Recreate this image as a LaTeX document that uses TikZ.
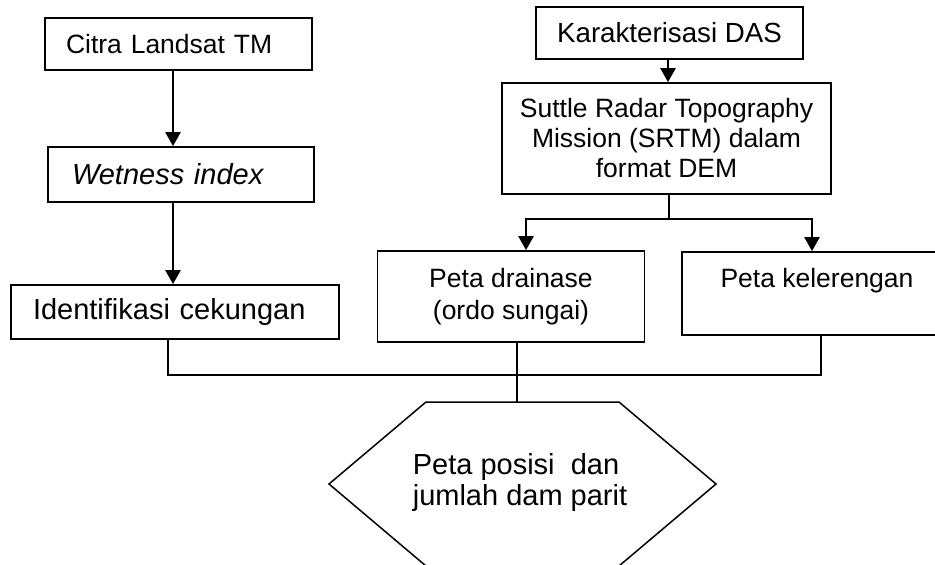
\documentclass[tikz,border=0pt]{standalone}
\usepackage{fontspec}
\setmainfont{Liberation Sans}
\usetikzlibrary{arrows.meta,calc}
\newcommand{\fsA}{\fontsize{26.5}{30}\selectfont}
\newcommand{\fsB}{\fontsize{29}{31}\selectfont}
\newcommand{\fsC}{\fontsize{26.5}{32}\selectfont}
\newcommand{\fsD}{\fontsize{27.7}{30}\selectfont}
\begin{document}
\begin{tikzpicture}[x=1pt,y=-1pt,
  box/.style={draw, line width=1.7pt, inner ysep=0pt, font=\fsA},
  lbox/.style={box, align=left},
  arr/.style={line width=2.3pt, -{Triangle[width=15pt,length=14pt]}},
  conn/.style={line width=1.5pt},
]
\useasboundingbox (0,0) rectangle (935,565);
\clip (0,0) rectangle (935,565);

\node[lbox, text width=225pt, inner xsep=21pt, minimum height=52pt] (citra) at (178.5,44) {Citra Landsat TM};
\node[lbox, text width=218pt, inner xsep=24pt, minimum height=55pt, font=\fsB\itshape] (wet) at (181,174.5) {Wetness index};
\node[lbox, text width=284pt, inner xsep=22pt, minimum height=54pt, font=\fsB] (ident) at (175,312) {Identifikasi cekungan};
\node[box, minimum width=267pt, minimum height=52pt, font=\fsD] (karak) at (669.5,33) {Karakterisasi DAS};
\node[box, align=center, minimum width=329pt, minimum height=111pt] (srtm) at (666.5,138.5) {Suttle Radar Topography\\Mission (SRTM) dalam\\format DEM};
\node[box, align=center, minimum width=267pt, minimum height=91pt, font=\fsC] (drain) at (511,296.5) {Peta drainase\\(ordo sungai)};
\node[box, minimum width=270pt, minimum height=83pt, text height=20pt, text depth=32pt] (keler) at (817,293.5) {Peta kelerengan};

\coordinate (h1) at (426,402);
\coordinate (h2) at (619,402);
\coordinate (h3) at (716,484);
\coordinate (h4) at (619,566);
\coordinate (h5) at (426,566);
\coordinate (h6) at (329,484);
\draw[conn] (h1) -- (h2) -- (h3) -- (h4) -- (h5) -- (h6) -- cycle;
\node[font=\fsB, align=left, inner sep=0pt] (hex) at (520,482.5) {Peta posisi\ \ dan\\jumlah dam parit};

\coordinate (xa) at (173,0);
\draw[arr] (citra.south -| xa) -- (wet.north -| xa);
\draw[arr] (wet.south -| xa) -- (ident.north -| xa);
\coordinate (xk) at (668,0);
\draw[arr] (karak.south -| xk) -- (srtm.north -| xk);
\coordinate (split) at (669,219);
\coordinate (xd) at (526,0);
\coordinate (xr) at (812,0);
\draw[arr] (srtm.south -| split) -- (split) -| (drain.north -| xd);
\draw[arr] (split) -| (keler.north -| xr);

\coordinate (j) at (517,375);
\coordinate (xi) at (168,0);
\coordinate (xe) at (821,0);
\draw[conn] (ident.south -| xi) |- (j) -| (keler.south -| xe);
\draw[conn] (drain.south -| j) -- (h1 -| j);
\end{tikzpicture}
\end{document}
